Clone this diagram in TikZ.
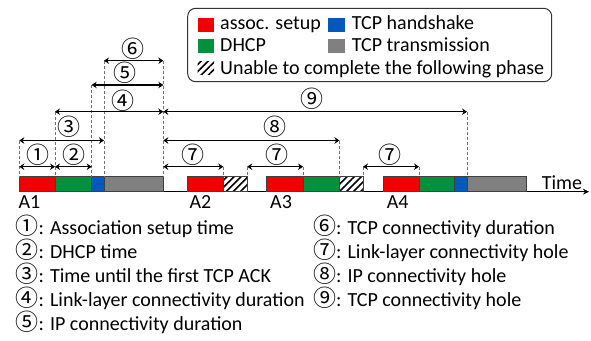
\documentclass[tikz,border=0pt]{standalone}
\usepackage{fontspec}
\setmainfont{Carlito}
\newfontfamily\circfont{Noto Sans CJK JP}
\newcommand\cdg[1]{{\fontsize{23}{24}\selectfont\circfont #1}}
\usetikzlibrary{arrows.meta,patterns.meta}
\definecolor{cred}{RGB}{240,0,0}
\definecolor{cgreen}{RGB}{0,145,60}
\definecolor{cblue}{RGB}{0,90,190}
\definecolor{cgray}{RGB}{128,128,128}
\begin{document}
\begin{tikzpicture}[x=1pt,y=-1pt,
  txt/.style={font=\fontsize{20}{24}\selectfont, inner sep=0, anchor=base west},
  circ/.style={font=\fontsize{23}{24}\selectfont\circfont, inner sep=0, anchor=center},
  segbox/.style={draw=black!75, line width=0.8pt},
  hatchfill/.style={pattern={Lines[angle=45,distance=5pt,line width=1.6pt]}},
  dimarrow/.style={line width=1.4pt, {Stealth[length=5pt,width=6.5pt]}-{Stealth[length=5pt,width=6.5pt]}},
  guide/.style={draw=black!55, line width=0.8pt, dash pattern=on 3pt off 2pt}]
\useasboundingbox (0,0) rectangle (591,340);

% legend
\draw[draw=black!80, line width=1pt, rounded corners=8pt] (187.7,8.3) rectangle (551.7,81.7);
\fill[cred] (197.7,18.3) rectangle (214,31.7);
\node[txt] (lg1) at (220,29.5) {assoc. setup};
\fill[cblue] (328.3,18.3) rectangle (344.5,31.7);
\node[txt] (lg2) at (351.7,29.5) {TCP handshake};
\fill[cgreen] (197.7,39.3) rectangle (214,52.7);
\node[txt] (lg3) at (220,51.8) {DHCP};
\fill[cgray] (328.3,39.3) rectangle (344.5,52.7);
\node[txt] (lg4) at (351.7,51.8) {TCP transmission};
\path[hatchfill] (197.7,61.7) rectangle (214,74);
\node[txt] (lg5) at (220,74) {Unable to complete the following phase};

% axis
\coordinate (ax0) at (19.3,191.7);
\coordinate (ax1) at (589,191.7);
\draw[line width=1pt, -{Stealth[length=6pt,width=6pt]}] (ax0) -- (ax1);
\node[txt] (time) at (541.7,189.3) {Time};

% bars
\draw[segbox, fill=cred]   (19.3,176.7) rectangle (55,191.7);
\draw[segbox, fill=cgreen] (55,176.7) rectangle (91.7,191.7);
\draw[segbox, fill=cblue]  (91.7,176.7) rectangle (104,191.7);
\draw[segbox, fill=cgray]  (104,176.7) rectangle (163.3,191.7);

\draw[segbox, fill=cred]   (187.3,176.7) rectangle (223.3,191.7);
\draw[segbox, hatchfill]   (223.3,176.7) rectangle (247.2,191.7);

\draw[segbox, fill=cred]   (266.7,176.7) rectangle (303,191.7);
\draw[segbox, fill=cgreen] (303,176.7) rectangle (339.5,191.7);
\draw[segbox, hatchfill]   (339.5,176.7) rectangle (363,191.7);

\draw[segbox, fill=cred]   (383.3,176.7) rectangle (419,191.7);
\draw[segbox, fill=cgreen] (419,176.7) rectangle (454.3,191.7);
\draw[segbox, fill=cblue]  (454.3,176.7) rectangle (467,191.7);
\draw[segbox, fill=cgray]  (467,176.7) rectangle (526.7,191.7);

\node[txt] (A1) at (18.3,208.5) {A1};
\node[txt] (A2) at (189.3,208.5) {A2};
\node[txt] (A3) at (270,208.5) {A3};
\node[txt] (A4) at (386.7,208.5) {A4};

% guides
\foreach \gx/\gy [count=\i] in {19.3/140.5, 55/111.7, 91.7/85, 104/60.7, 163.3/60.7, 223.3/166.7, 247.2/166.7, 303/166.7, 339.5/140.5, 363/166.7, 419/166.7, 467/111.7}{
  \coordinate (gt\i) at (\gx,\gy);
  \coordinate (gb\i) at (\gx,176.7);
  \draw[guide] (gt\i) -- (gb\i);
}

% dimension arrows
\coordinate (d1a) at (19.3,166.7);  \coordinate (d1b) at (55,166.7);
\coordinate (d2a) at (55,166.7);    \coordinate (d2b) at (91.7,166.7);
\coordinate (d3a) at (19.3,140.5);  \coordinate (d3b) at (104,140.5);
\coordinate (d4a) at (55,111.7);    \coordinate (d4b) at (163.3,111.7);
\coordinate (d5a) at (91.7,85);     \coordinate (d5b) at (163.3,85);
\coordinate (d6a) at (104,60.7);    \coordinate (d6b) at (163.3,60.7);
\coordinate (d7a) at (163.3,166.7); \coordinate (d7b) at (223.3,166.7);
\coordinate (d7c) at (247.2,166.7); \coordinate (d7d) at (303,166.7);
\coordinate (d7e) at (363,166.7);   \coordinate (d7f) at (419,166.7);
\coordinate (d8a) at (163.3,140.5); \coordinate (d8b) at (339.5,140.5);
\coordinate (d9a) at (163.3,111.7); \coordinate (d9b) at (467,111.7);
\draw[dimarrow] (d1a) -- (d1b);
\draw[dimarrow] (d2a) -- (d2b);
\draw[dimarrow] (d3a) -- (d3b);
\draw[dimarrow] (d4a) -- (d4b);
\draw[dimarrow] (d5a) -- (d5b);
\draw[dimarrow] (d6a) -- (d6b);
\draw[dimarrow] (d7a) -- (d7b);
\draw[dimarrow] (d7c) -- (d7d);
\draw[dimarrow] (d7e) -- (d7f);
\draw[dimarrow] (d8a) -- (d8b);
\draw[dimarrow] (d9a) -- (d9b);

\node[circ] (c1) at (37.7,155) {①};
\node[circ] (c2) at (74.3,155) {②};
\node[circ] (c3) at (69.3,126.7) {③};
\node[circ] (c4) at (123.3,100.7) {④};
\node[circ] (c5) at (125,72.7) {⑤};
\node[circ] (c6) at (133.3,48.3) {⑥};
\node[circ] (c7a) at (193.3,155) {⑦};
\node[circ] (c7b) at (276.7,155) {⑦};
\node[circ] (c7c) at (390,154.5) {⑦};
\node[circ] (c8) at (275,126.7) {⑧};
\node[circ] (c9) at (311.7,98.3) {⑨};

% explanations
\node[txt] (e1) at (15.5,234)   {\cdg{①}: Association setup time};
\node[txt] (e2) at (15.5,258.2) {\cdg{②}: DHCP time};
\node[txt] (e3) at (15.5,282.4) {\cdg{③}: Time until the first TCP ACK};
\node[txt] (e4) at (15.5,306.6) {\cdg{④}: Link-layer connectivity duration};
\node[txt] (e5) at (15.5,330.8) {\cdg{⑤}: IP connectivity duration};
\node[txt] (e6) at (313,234)   {\cdg{⑥}: TCP connectivity duration};
\node[txt] (e7) at (313,258.2) {\cdg{⑦}: Link-layer connectivity hole};
\node[txt] (e8) at (313,282.4) {\cdg{⑧}: IP connectivity hole};
\node[txt] (e9) at (313,306.6) {\cdg{⑨}: TCP connectivity hole};
\end{tikzpicture}
\end{document}
